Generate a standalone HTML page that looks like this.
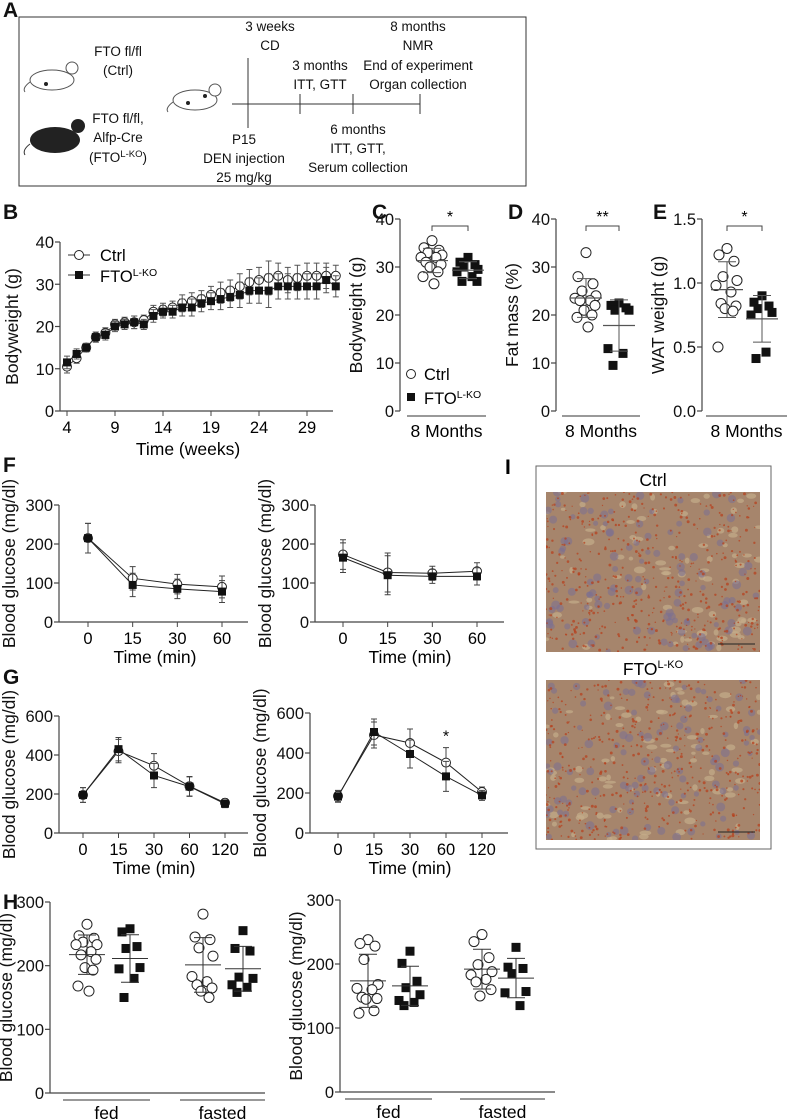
<!DOCTYPE html>
<html><head><meta charset="utf-8"><style>
body{margin:0;background:#fff;}
svg{display:block;font-family:"Liberation Sans",Arial,sans-serif;}
</style></head><body>
<svg id="fig" width="787" height="1119" viewBox="0 0 787 1119">
<defs>
  <clipPath id="clip1"><rect x="546" y="492" width="214" height="160"/></clipPath>
  <clipPath id="clip2"><rect x="546" y="680" width="214" height="160"/></clipPath>
</defs>
<g id="panelA" font-size="13.5" text-anchor="middle" fill="#111">
  <text x="3" y="17" font-size="21" font-weight="bold" text-anchor="start">A</text>
  <rect x="19" y="17" width="507" height="169" fill="none" stroke="#333" stroke-width="1"/>
  <g><ellipse cx="52" cy="80" rx="22" ry="10" fill="#fff" stroke="#555"/><circle cx="72" cy="68" r="6" fill="#fff" stroke="#555"/><path d="M30 82 Q22 88 25 92" fill="none" stroke="#555"/><circle cx="46" cy="84" r="2" fill="#222"/></g>
  <g><ellipse cx="55" cy="140" rx="25" ry="13" fill="#222"/><circle cx="78" cy="126" r="7" fill="#222"/><path d="M30 144 Q22 150 25 155" fill="none" stroke="#333"/></g>
  <g><ellipse cx="195" cy="100" rx="22" ry="10" fill="#fff" stroke="#555"/><circle cx="215" cy="90" r="6" fill="#fff" stroke="#555"/><path d="M173 102 Q165 108 168 112" fill="none" stroke="#555"/><circle cx="188" cy="103" r="2" fill="#222"/><circle cx="205" cy="96" r="2" fill="#222"/></g>
  <text x="118" y="56">FTO fl/fl</text>
  <text x="118" y="75">(Ctrl)</text>
  <text x="118" y="123">FTO fl/fl,</text>
  <text x="118" y="142">Alfp-Cre</text>
  <text x="118" y="162">(FTO<tspan font-size="9.5" dy="-5">L-KO</tspan><tspan dy="5">)</tspan></text>
  <line x1="232" y1="104" x2="420" y2="104" stroke="#333"/>
  <line x1="248" y1="58" x2="248" y2="128" stroke="#333"/>
  <line x1="300" y1="94" x2="300" y2="114" stroke="#333"/>
  <line x1="353" y1="94" x2="353" y2="114" stroke="#333"/>
  <line x1="420" y1="94" x2="420" y2="114" stroke="#333"/>
  <text x="270" y="31">3 weeks</text>
  <text x="270" y="50">CD</text>
  <text x="320" y="70">3 months</text>
  <text x="320" y="89">ITT, GTT</text>
  <text x="418" y="31">8 months</text>
  <text x="418" y="50">NMR</text>
  <text x="418" y="70">End of experiment</text>
  <text x="418" y="89">Organ collection</text>
  <text x="244" y="144">P15</text>
  <text x="244" y="163">DEN injection</text>
  <text x="244" y="182">25 mg/kg</text>
  <text x="358" y="134">6 months</text>
  <text x="358" y="153">ITT, GTT,</text>
  <text x="358" y="172">Serum collection</text>
</g>
<g id="charts"></g>
<g id="panelI"></g>
</svg>
<script>
// ---------- Data ----------
const bWeeks = [4,5,6,7,8,9,10,11,12,13,14,15,16,17,18,19,20,21,22,23,24,25,26,27,28,29,30,31,32];
const bCtrl = [10.5,12.5,15,17.5,18.5,20.5,21,21,21.5,23.5,24,24.5,25.5,26,26.5,27.5,28,28.5,29.5,30.5,31,31.5,32,31,31.5,32,32,32,32];
const bKO = [11.5,13.5,15,17.5,18,20,20.5,21,20.5,22.5,23.5,23.5,24.5,24.5,25.5,26,26.5,27,27.5,28.5,28.5,28.5,29.5,29.5,29.5,29.5,29.5,31,29.5];
const bErr = [1.5,1.2,1,1.2,1.2,1.2,1.2,1.5,1.2,1.5,1.5,1.5,2,2,2,2,2.5,2.5,3,3,3,4,3,3,3,3,3,3,2.5];
const bTicksX = [4,9,14,19,24,29];
const bTicksY = [0,10,20,30,40];

const cCtrl = [35.5,34,33.5,33,32.5,32,32,31,30.5,30,29,28,26.5];
const cKO = [32,31,30.5,30,29.5,29,28,27,27];
const dCtrl = [33,28,26.5,25,24,23.5,23,23,22,21,20,19.5,17.5];
const dKO = [22.5,22,21.5,21,21,13,12,9.5];
const eCtrl = [1.27,1.22,1.17,1.05,1.02,0.98,0.93,0.84,0.82,0.8,0.78,0.5];
const eKO = [0.9,0.85,0.82,0.8,0.77,0.75,0.46,0.41];

const fTimes = ["0","15","30","60"];
const fLCtrl = [215,112,97,90], fLKO = [215,95,85,78], fLErr = [38,30,25,28];
const fRCtrl = [173,127,125,130], fRKO = [165,120,117,117], fRErr = [38,50,18,22];
const gTimes = ["0","15","30","60","120"];
const gLCtrl = [195,420,345,240,155], gLKO = [195,430,295,238,150], gLErr = [38,60,62,50,20];
const gRCtrl = [185,490,450,352,205], gRKO = [182,505,395,283,188], gRErr = [28,65,70,75,25];

const hLCtrlFed = [265,247,243,237,233,233,222,217,210,197,193,168,160];
const hLKOFed = [258,253,230,227,197,195,180,150];
const hLCtrlFast = [281,245,241,228,215,183,175,170,165,160,150];
const hLKOFast = [255,227,223,182,180,170,166,158];
const hRCtrlFed = [238,232,228,207,168,162,160,148,146,145,127,123];
const hRKOFed = [220,201,173,163,152,143,140,135];
const hRCtrlFast = [246,235,210,199,188,183,176,172,160,150];
const hRKOFast = [226,195,193,185,157,155,135];

// ---------- Helpers ----------
const NS = "http://www.w3.org/2000/svg";
const root = document.getElementById('charts');
const TICK = 16.5, TITLE = 17.5;
function el(tag, attrs, parent, text){
  const e = document.createElementNS(NS, tag);
  for (const k in attrs) e.setAttribute(k, attrs[k]);
  if (text !== undefined) e.textContent = text;
  (parent||root).appendChild(e);
  return e;
}
function mean(a){return a.reduce((s,v)=>s+v,0)/a.length;}
function sd(a){const m=mean(a);return Math.sqrt(a.reduce((s,v)=>s+(v-m)*(v-m),0)/(a.length-1));}
function linScale(d0,d1,r0,r1){return v=>r0+(v-d0)/(d1-d0)*(r1-r0);}

function yAxis(g, x, yTop, yBot, min, max, ticks, fmt, title, titleX){
  const ys = linScale(min,max,yBot,yTop);
  const ax = el('line',{x1:x,y1:yTop,x2:x,y2:yBot,stroke:'#444','stroke-width':1.2},g);
  
  
  ticks.forEach(t=>{
    const tl = el('line',{x1:x-5,y1:ys(t),x2:x,y2:ys(t),stroke:'#444','stroke-width':1.2},g);
    
    
    const tx = el('text',{x:x-6,y:ys(t)+6,'text-anchor':'end','font-size':TICK,fill:'#111'},g,fmt?fmt(t):String(t));
    
    
  });
  const cy=(yTop+yBot)/2;
  const tt = el('text',{x:titleX,y:cy,'text-anchor':'middle','font-size':TITLE,fill:'#111',transform:`rotate(-90 ${titleX} ${cy})`},g,title);
  
  
  return ys;
}
function label(txt,x,y){
  const t = el('text',{x:x,y:y,'font-size':21,'font-weight':'bold',fill:'#111'},root,txt);
  
  
}
function marker(g,x,y,open,s){
  s = s||7;
  let m;
  if(open){ m = el('circle',{cx:x,cy:y,r:s/2+0.5,fill:'#fff',stroke:'#222','stroke-width':1},g);  }
  else { m = el('rect',{x:x-s/2,y:y-s/2,width:s,height:s,fill:'#111'},g);  }
  
}
function errbar(g,x,y1,y2,w,col){
  const l = el('path',{d:`M${x} ${y1}V${y2}M${x-w} ${y1}H${x+w}M${x-w} ${y2}H${x+w}`,stroke:col||'#333','stroke-width':1,fill:'none'},g);
  
  
}

// ---------- Panel B ----------
label('B',3,219);
(function(){
  const g = el('g',{});  
  const ys = yAxis(g,60,242,411,0,40,bTicksY,null,'Bodyweight (g)',18);
  const xs = linScale(4,29,67,307);
  const xa = el('line',{x1:60,y1:411,x2:333,y2:411,stroke:'#444','stroke-width':1.2},g);
   
  bTicksX.forEach(t=>{
    const tl = el('line',{x1:xs(t),y1:411,x2:xs(t),y2:416,stroke:'#444'},g);  
    const tx = el('text',{x:xs(t),y:433,'text-anchor':'middle','font-size':TICK},g,String(t));  
  });
  const xt = el('text',{x:188,y:455,'text-anchor':'middle','font-size':TITLE},g,'Time (weeks)');  
  [[bCtrl,true],[bKO,false]].forEach(([arr,open])=>{
    const p = el('polyline',{points:arr.map((v,i)=>xs(bWeeks[i])+','+ys(v)).join(' '),fill:'none',stroke:'#333','stroke-width':1},g);
     
    arr.forEach((v,i)=>{ errbar(g,xs(bWeeks[i]),ys(v-bErr[i]),ys(v+bErr[i]),3,'#555'); });
    arr.forEach((v,i)=>marker(g,xs(bWeeks[i]),ys(v),open,8));
  });
  const lg = el('g',{},g);  
  el('line',{x1:68,y1:255,x2:90,y2:255,stroke:'#333'},lg); marker(lg,79,255,true,8);
  el('text',{x:100,y:261,'font-size':TICK},lg,'Ctrl');
  el('line',{x1:68,y1:275,x2:90,y2:275,stroke:'#333'},lg); marker(lg,79,275,false,8);
  const t2 = el('text',{x:100,y:282,'font-size':TICK},lg,'FTO'); el('tspan',{'font-size':10.5,dy:-6},t2,'L-KO');
})();

// ---------- Panels C, D, E (scatter) ----------
function jitter(i){ const p=[0,-8,7,-4,10,-11,4,-6,9,-2,6,-9,2,11,-5]; return p[i%p.length]; }
function scatterPanel(name, x0, min, max, ticks, fmt, title, ctrl, ko, cx1, cx2, sig, ulx1, ulx2){
  const g = el('g',{});  
  const ys = yAxis(g,x0,219,411,min,max,ticks,fmt,title,x0-38);
  const ul = el('line',{x1:ulx1,y1:416,x2:ulx2,y2:416,stroke:'#333'},g);  
  const xl = el('text',{x:(ulx1+ulx2)/2,y:437,'text-anchor':'middle','font-size':TITLE},g,'8 Months');  
  [[ctrl,cx1,true],[ko,cx2,false]].forEach(([arr,cx,open])=>{
    const m=mean(arr), s=sd(arr);
    arr.forEach((v,i)=>marker(g,cx+jitter(i),ys(v),open,9));
    const ml = el('line',{x1:cx-16,y1:ys(m),x2:cx+16,y2:ys(m),stroke:'#555','stroke-width':1.2},g);  
    errbar(g,cx,ys(m-s),ys(m+s),9,'#555');
  });
  const sb = el('path',{d:`M${cx1} ${231}V${226}H${cx2}V${231}`,stroke:'#444',fill:'none'},g);  
  const st = el('text',{x:(cx1+cx2)/2,y:222,'text-anchor':'middle','font-size':16},g,sig);  
  return {g,ys};
}
label('C',372,219);
const pc = scatterPanel('panel-c-bodyweight-8m',400,0,40,[0,10,20,30,40],null,'Bodyweight (g)',cCtrl,cKO,432,468,'*',407,486);
(function(){
  const lg = el('g',{},pc.g);  
  marker(lg,411,374,true,8); el('text',{x:424,y:380,'font-size':TICK},lg,'Ctrl');
  marker(lg,411,397,false,8); const t=el('text',{x:424,y:404,'font-size':TICK},lg,'FTO'); el('tspan',{'font-size':10.5,dy:-6},t,'L-KO');
})();
label('D',508,219);
scatterPanel('panel-d-fat-mass',556,0,40,[0,10,20,30,40],null,'Fat mass (%)',dCtrl,dKO,586,619,'**',562,640);
label('E',653,219);
scatterPanel('panel-e-wat-weight',702,0,1.5,[0,0.5,1.0,1.5],v=>v.toFixed(1),'WAT weight (g)',eCtrl,eKO,727,762,'*',706,787);

// ---------- Panels F, G (line charts) ----------
function linePanel(name,x0,x1,yTop,yBot,max,ticks,cats,tx0,tx1,ctrl,ko,err,star){
  const g = el('g',{});  
  const ys = yAxis(g,x0,yTop,yBot,0,max,ticks,null,'Blood glucose (mg/dl)',x0-44);
  const xs = linScale(0,cats.length-1,tx0,tx1);
  const xa = el('line',{x1:x0,y1:yBot,x2:x1,y2:yBot,stroke:'#444','stroke-width':1.2},g);  
  cats.forEach((c,i)=>{
    const tl = el('line',{x1:xs(i),y1:yBot,x2:xs(i),y2:yBot+5,stroke:'#444'},g);  
    const t = el('text',{x:xs(i),y:yBot+22,'text-anchor':'middle','font-size':TICK},g,c);  
  });
  const xt = el('text',{x:(tx0+tx1)/2,y:yBot+41,'text-anchor':'middle','font-size':TITLE},g,'Time (min)');  
  [[ctrl,true],[ko,false]].forEach(([arr,open])=>{
    arr.forEach((v,i)=>errbar(g,xs(i),ys(v-err[i]),ys(v+err[i]),3,'#444'));
    const p = el('polyline',{points:arr.map((v,i)=>xs(i)+','+ys(v)).join(' '),fill:'none',stroke:'#222','stroke-width':1},g);
     
    arr.forEach((v,i)=>marker(g,xs(i),ys(v),open,8));
  });
  if(star!==undefined){ const s=el('text',{x:xs(star),y:ys(ctrl[star]+err[star])-6,'text-anchor':'middle','font-size':16},g,'*');   }
}
label('F',3,472);
linePanel('panel-f-itt-3m',59,248,505,622,300,[0,100,200,300],fTimes,88,222,fLCtrl,fLKO,fLErr);
linePanel('panel-f-itt-6m',315,504,505,622,300,[0,100,200,300],fTimes,343,477,fRCtrl,fRKO,fRErr);
label('G',3,684);
linePanel('panel-g-gtt-3m',59,248,716,833,600,[0,200,400,600],gTimes,83,225,gLCtrl,gLKO,gLErr);
linePanel('panel-g-gtt-6m',310,508,713,833,600,[0,200,400,600],gTimes,338,482,gRCtrl,gRKO,gRErr,3);

// ---------- Panel H ----------
function hPanel(name,x0,yTop,yBot,groups,xpos,ul){
  const g = el('g',{});  
  const ys = yAxis(g,x0,yTop,yBot,0,300,[0,100,200,300],null,'Blood glucose (mg/dl)',x0-38);
  const xa = el('line',{x1:x0,y1:yBot,x2:x0+215,y2:yBot,stroke:'#444','stroke-width':1.2},g);  
  groups.forEach((arr,k)=>{
    const cx=xpos[k], open=(k%2===0), m=mean(arr), s=sd(arr);
    arr.forEach((v,i)=>marker(g,cx+jitter(i),ys(v),open,9));
    const ml = el('line',{x1:cx-18,y1:ys(m),x2:cx+18,y2:ys(m),stroke:'#333'},g);  
    errbar(g,cx,ys(m-s),ys(m+s),9,'#333');
  });
  [['fed',ul[0],ul[1]],['fasted',ul[2],ul[3]]].forEach(([t,a,b])=>{
    const l = el('line',{x1:a,y1:yBot+7,x2:b,y2:yBot+7,stroke:'#333'},g);  
    const tx = el('text',{x:(a+b)/2,y:yBot+26,'text-anchor':'middle','font-size':TITLE},g,t);  
  });
}
label('H',3,909);
hPanel('panel-h-glucose-3m',50,902,1093,[hLCtrlFed,hLKOFed,hLCtrlFast,hLKOFast],[87,130,203,243],[63,150,180,265]);
hPanel('panel-h-glucose-6m',340,900,1092,[hRCtrlFed,hRKOFed,hRCtrlFast,hRKOFast],[368,410,482,516],[345,432,460,545]);

// ---------- Panel I (histology) ----------
(function(){
  const g = document.getElementById('panelI');
  const lab = el('text',{x:505,y:474,'font-size':21,'font-weight':'bold'},g,'I');  
  const box = el('rect',{x:536,y:466,width:235,height:383,fill:'#fff',stroke:'#666'},g);  
  let seed=7; function rnd(){ seed=(seed*16807)%2147483647; return seed/2147483647; }
  function tissue(y0,h,nm,clip){
    const t = el('g',{'clip-path':'url(#'+clip+')'},g);  
    el('rect',{x:546,y:y0,width:214,height:h,fill:'#a6856c'},t);
    for(let i=0;i<80;i++) el('ellipse',{cx:546+rnd()*214,cy:y0+rnd()*h,rx:2+rnd()*4,ry:1.5+rnd()*2,fill:'#c4ad8a',opacity:0.7},t);
    for(let i=0;i<110;i++) el('circle',{cx:546+rnd()*214,cy:y0+rnd()*h,r:2.5+rnd()*2,fill:'#7a6f94',opacity:0.55},t);
    for(let i=0;i<500;i++) el('circle',{cx:546+rnd()*214,cy:y0+rnd()*h,r:0.6+rnd()*0.9,fill:'#b5421f',opacity:0.75},t);
    el('line',{x1:718,y1:y0+h-8,x2:755,y2:y0+h-8,stroke:'#222'},t);
  }
  const c = el('text',{x:653,y:486,'text-anchor':'middle','font-size':TITLE},g,'Ctrl');  
  tissue(492,160,'ctrl-histology-image','clip1');
  const k = el('text',{x:653,y:675,'text-anchor':'middle','font-size':TITLE},g,'FTO');  
  el('tspan',{'font-size':11,dy:-7},k,'L-KO');
  tissue(680,160,'ko-histology-image','clip2');
})();
</script>
</body></html>
